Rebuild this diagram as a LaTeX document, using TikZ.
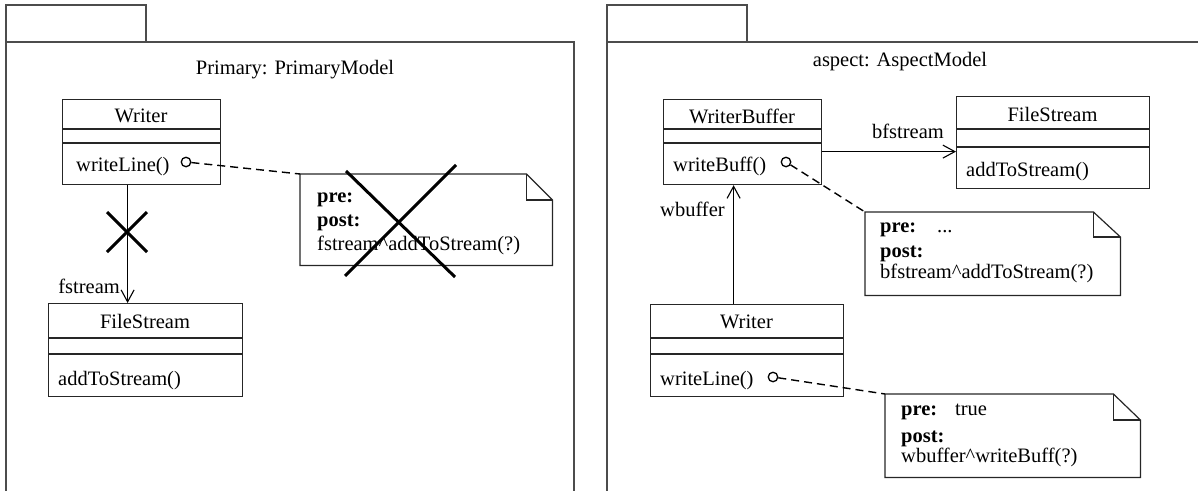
\documentclass[tikz,border=0pt]{standalone}
\usepackage{fontspec}
\setmainfont{Liberation Serif}
\usetikzlibrary{arrows.meta}
\begin{document}
\begin{tikzpicture}[x=1pt,y=-1pt,
  font=\fontsize{20.5}{24}\selectfont,
  pkg/.style={draw=black!70, line width=1.6pt},
  clsbox/.style={draw=black!85, line width=1.2pt, inner sep=0pt, anchor=north west},
  cls/.style={draw=black!85, line width=1.2pt},
  txt/.style={inner sep=0pt},
  notebox/.style={inner sep=0pt, anchor=north west},
  noteline/.style={draw=black!85, line width=1.2pt},
  opcirc/.style={circle, draw=black, line width=1.3pt, minimum size=9.5pt, inner sep=0pt},
  assoc/.style={draw=black, line width=1.1pt, -{Straight Barb[length=12pt,width=13pt]}},
  dep/.style={draw=black, line width=1.4pt, dash pattern=on 8pt off 5pt},
  crossline/.style={draw=black, line width=3pt}
]
\useasboundingbox (0,0) rectangle (1198,490);

% ---------- left package ----------
\draw[pkg] (6,5) rectangle (146,42);
\draw[pkg] (6,495) -- (6,42) -- (574,42) -- (574,495);
\node[txt, anchor=base] (lblA) at (295,74) {Primary: PrimaryModel};

% Writer (left)
\node[clsbox, minimum width=158pt, minimum height=85pt] (writerA) at (62,99) {};
\draw[cls] (62,129) -- (220,129) (62,143) -- (220,143);
\node[txt, anchor=base] (writerAname) at (141,122) {Writer};
\node[txt, anchor=base west] (writerAop) at (76,171) {writeLine()};
\node[opcirc] (cA) at (186,162) {};

% FileStream (left)
\node[clsbox, minimum width=194pt, minimum height=93pt] (fsA) at (48,303) {};
\draw[cls] (48,338) -- (242,338) (48,354) -- (242,354);
\node[txt, anchor=base] (fsAname) at (145,328) {FileStream};
\node[txt, anchor=base west] (fsAop) at (58,385) {addToStream()};

% association Writer -> FileStream
\draw[assoc] ([xshift=-14pt]writerA.south) -- ([xshift=-14pt]writerA.south |- fsA.north);
\node[txt, anchor=base east] (fstreamlbl) at (120,293) {fstream};
\draw[crossline] (107,212) -- (147,252) (147,212) -- (107,252);

% note (left)
\node[notebox, minimum width=252pt, minimum height=91pt] (noteA) at (300,174) {};
\draw[noteline] (noteA.north west) -- ([xshift=-26pt]noteA.north east) -- ([yshift=-26pt]noteA.north east) -- (noteA.south east) -- (noteA.south west) -- cycle;
\draw[noteline] ([xshift=-26pt]noteA.north east) |- ([yshift=-26pt]noteA.north east);
\node[txt, anchor=base west] (noteApre) at (317,202) {\textbf{pre:}};
\node[txt, anchor=base west] (noteApost) at (317,226) {\textbf{post:}};
\node[txt, anchor=base west] (noteAexpr) at (317,250) {fstream\textasciicircum addToStream(?)};
\draw[dep] (cA) -- (noteA.north west);
\draw[crossline] (346,171) -- (455,277) (456,165) -- (345,276);

% ---------- right package ----------
\draw[pkg] (607,5) rectangle (747,42);
\draw[pkg] (607,495) -- (607,42) -- (1202,42);
\node[txt, anchor=base] (lblB) at (900,66) {aspect: AspectModel};

% WriterBuffer
\node[clsbox, minimum width=158pt, minimum height=85pt] (wbuf) at (663,99) {};
\draw[cls] (663,129) -- (821,129) (663,143) -- (821,143);
\node[txt, anchor=base] (wbufname) at (742,123) {WriterBuffer};
\node[txt, anchor=base west] (wbufop) at (673,171) {writeBuff()};
\node[opcirc] (cB) at (786,162) {};

% FileStream (right)
\node[clsbox, minimum width=193pt, minimum height=92pt] (fsB) at (956,96) {};
\draw[cls] (956,129) -- (1149,129) (956,147) -- (1149,147);
\node[txt, anchor=base] (fsBname) at (1052.5,121) {FileStream};
\node[txt, anchor=base west] (fsBop) at (966,176) {addToStream()};

% Writer (right)
\node[clsbox, minimum width=193pt, minimum height=92pt] (writerB) at (650,304) {};
\draw[cls] (650,338) -- (843,338) (650,354) -- (843,354);
\node[txt, anchor=base] (writerBname) at (746.5,328) {Writer};
\node[txt, anchor=base west] (writerBop) at (660,385) {writeLine()};
\node[opcirc] (cC) at (773,377) {};

% associations
\draw[assoc] ([yshift=-9.5pt]wbuf.east) -- ([yshift=-9.5pt]wbuf.east -| fsB.west);
\node[txt, anchor=base] (bfstreamlbl) at (908,138) {bfstream};
\draw[assoc] ([xshift=-13.5pt]writerB.north) -- ([xshift=-13.5pt]writerB.north |- wbuf.south);
\node[txt, anchor=base west] (wbufferlbl) at (660,216) {wbuffer};

% note 1 (right)
\node[notebox, minimum width=255pt, minimum height=83pt] (noteB) at (865,212) {};
\draw[noteline] (noteB.north west) -- ([xshift=-27pt]noteB.north east) -- ([yshift=-25pt]noteB.north east) -- (noteB.south east) -- (noteB.south west) -- cycle;
\draw[noteline] ([xshift=-27pt]noteB.north east) |- ([yshift=-25pt]noteB.north east);
\node[txt, anchor=base west] (noteBpre) at (880,232) {\textbf{pre:}};
\node[txt, anchor=base west] (noteBpreval) at (937,232) {...};
\node[txt, anchor=base west] (noteBpost) at (880,257) {\textbf{post:}};
\node[txt, anchor=base west] (noteBexpr) at (880,278) {bfstream\textasciicircum addToStream(?)};
\draw[dep] (cB) -- (noteB.north west);

% note 2 (right)
\node[notebox, minimum width=255pt, minimum height=83pt] (noteC) at (885,394) {};
\draw[noteline] (noteC.north west) -- ([xshift=-27pt]noteC.north east) -- ([yshift=-26pt]noteC.north east) -- (noteC.south east) -- (noteC.south west) -- cycle;
\draw[noteline] ([xshift=-27pt]noteC.north east) |- ([yshift=-26pt]noteC.north east);
\node[txt, anchor=base west] (noteCpre) at (901,415) {\textbf{pre:}};
\node[txt, anchor=base west] (noteCpreval) at (955,415) {true};
\node[txt, anchor=base west] (noteCpost) at (901,442) {\textbf{post:}};
\node[txt, anchor=base west] (noteCexpr) at (901,462) {wbuffer\textasciicircum writeBuff(?)};
\draw[dep] (cC) -- (noteC.north west);
\end{tikzpicture}
\end{document}
